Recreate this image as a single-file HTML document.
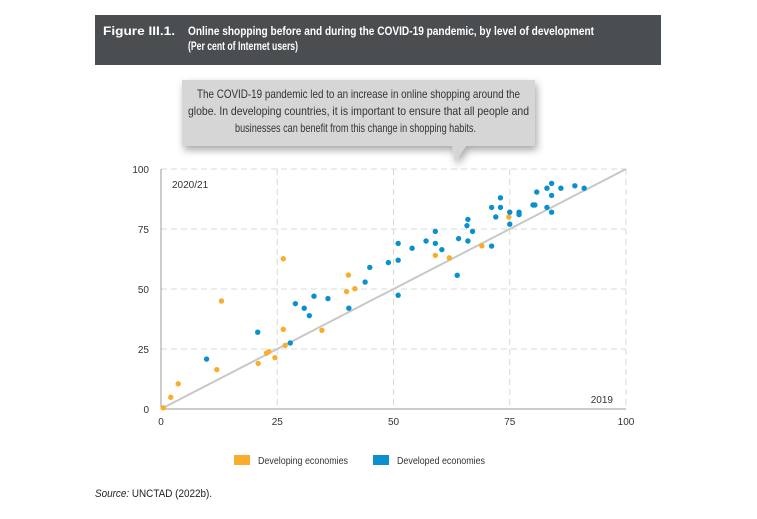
<!DOCTYPE html>
<html><head><meta charset="utf-8"><style>
body{margin:0;width:757px;height:519px;background:#fff;font-family:"Liberation Sans",sans-serif;position:relative;overflow:hidden}
#src{position:absolute;left:95px;top:488px;font-size:11px;color:#222;white-space:nowrap;transform:scaleX(0.9);transform-origin:0 0}
</style></head><body>
<svg id="chart" width="757" height="519" style="position:absolute;left:0;top:0">
<defs><filter id="sh" x="-10%" y="-20%" width="120%" height="150%"><feDropShadow dx="2" dy="4" stdDeviation="4" flood-color="#000" flood-opacity="0.35"/></filter></defs>
<rect x="95" y="15" width="566" height="50" fill="#4b4e51"/>
<text x="103" y="35" font-size="12" font-weight="bold" fill="#fff" textLength="72" lengthAdjust="spacingAndGlyphs">Figure III.1.</text>
<text x="188" y="35" font-size="12" font-weight="bold" fill="#fff" textLength="406" lengthAdjust="spacingAndGlyphs">Online shopping before and during the COVID-19 pandemic, by level of development</text>
<text x="188" y="50" font-size="12" font-weight="bold" fill="#fff" textLength="110" lengthAdjust="spacingAndGlyphs">(Per cent of Internet users)</text>
<g filter="url(#sh)"><path d="M182,80 H535 V146 H466 L455,162 L452,146 H182 Z" fill="#d6d6d6"/></g>
<g font-size="12" fill="#333">
<text x="197" y="98" textLength="323" lengthAdjust="spacingAndGlyphs">The COVID-19 pandemic led to an increase in online shopping around the</text>
<text x="188" y="115" textLength="341" lengthAdjust="spacingAndGlyphs">globe. In developing countries, it is important to ensure that all people and</text>
<text x="235" y="132" textLength="241" lengthAdjust="spacingAndGlyphs">businesses can benefit from this change in shopping habits.</text>
</g>
<g id="grid"></g><g id="axes"></g><g id="marks"></g>
<text x="172" y="188" font-size="10" fill="#333">2020/21</text>
<text x="613" y="403" text-anchor="end" font-size="10" fill="#333">2019</text>
<g>
<rect x="234" y="455" width="16" height="10" fill="#f9ad2a"/>
<text x="258" y="464" font-size="10" fill="#333" textLength="90" lengthAdjust="spacingAndGlyphs">Developing economies</text>
<rect x="373" y="455" width="16" height="10" fill="#0a8fcf"/>
<text x="397" y="464" font-size="10" fill="#333" textLength="88" lengthAdjust="spacingAndGlyphs">Developed economies</text>
</g>
</svg>
<div id="src"><i>Source:</i> UNCTAD (2022b).</div>
<script>
const ticks=[0,25,50,75,100];
const devX=[0.5,2.1,3.7,12,13,20.9,22.7,23.2,24.5,26.3,26.3,26.7,34.6,40.3,39.9,41.7,59,62,69,74.8];
const devY=[0.5,4.9,10.5,16.4,45,19,23.3,23.9,21.4,62.6,33.2,26.5,32.8,55.8,48.9,50.1,64,63,68,80];
const dedX=[9.8,20.8,27.8,28.9,30.8,31.9,32.9,35.9,40.4,43.9,44.9,48.9,51,51,51,54,57,59,59,60.4,63.7,64,66,65.8,67,66,71.1,71.1,72,73,73,75,75,77,77,80,80.4,80.8,83,84,84,83,84,86,89,91];
const dedY=[20.8,32,27.5,43.9,42,38.9,47,46,42,52.9,59,61,62,69,47.4,67,70,74,69,66.4,55.7,71,79,76.4,74,70,67.9,84,80,88,84,82,77,82,81,85,85,90.4,92,94,89,84,82,92,93,92];
const X0=161,X1=626,Y0=409,Y1=169;
const sx=v=>X0+(X1-X0)*v/100, sy=v=>Y0-(Y0-Y1)*v/100;
const NS='http://www.w3.org/2000/svg';
function mk(t,a,p){const e=document.createElementNS(NS,t);for(const k in a)e.setAttribute(k,a[k]);p.appendChild(e);return e;}
const grid=document.getElementById('grid'),axes=document.getElementById('axes'),marks=document.getElementById('marks');
ticks.forEach(t=>{
 if(t>0){const g=mk('line',{x1:sx(t),x2:sx(t),y1:Y1,y2:Y0,stroke:'#d8d8d8','stroke-dasharray':'6,4'},grid);
 
 
 const h=mk('line',{x1:X0,x2:X1,y1:sy(t),y2:sy(t),stroke:'#d8d8d8','stroke-dasharray':'6,4'},grid);
 
 }
 const xl=mk('text',{x:sx(t),y:Y0+16,'text-anchor':'middle','font-size':10,fill:'#333'},axes);xl.textContent=t;
 
 
 const yl=mk('text',{x:X0-12,y:sy(t)+4,'text-anchor':'end','font-size':10,fill:'#333'},axes);yl.textContent=t;
 
 
});
const ya=mk('line',{x1:X0,x2:X0,y1:Y1,y2:Y0,stroke:'#999','stroke-width':1},axes);


const xa=mk('line',{x1:X0,x2:X1,y1:Y0,y2:Y0,stroke:'#999','stroke-width':1},axes);


const dl=mk('line',{x1:sx(0),y1:sy(0),x2:sx(100),y2:sy(100),stroke:'#c8c8c8','stroke-width':2},marks);


devX.forEach((v,i)=>{const c=mk('circle',{cx:sx(v),cy:sy(devY[i]),r:2.7,fill:'#f9ad2a'},marks);
 
 });
dedX.forEach((v,i)=>{const c=mk('circle',{cx:sx(v),cy:sy(dedY[i]),r:2.7,fill:'#0a8fcf'},marks);
 
 });
</script>
</body></html>
